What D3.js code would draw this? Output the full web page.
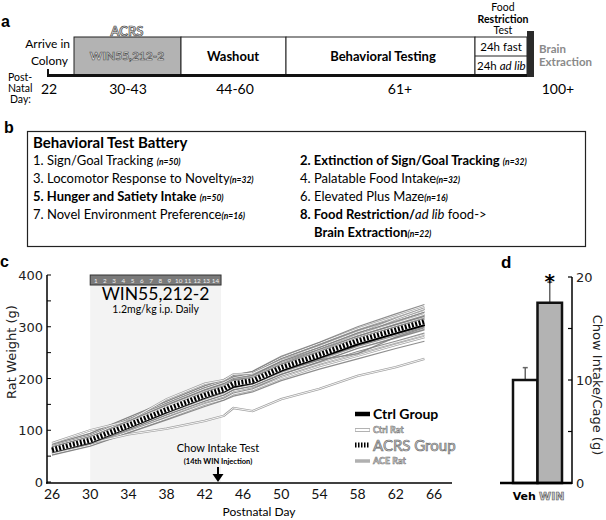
<!DOCTYPE html>
<html><head><meta charset="utf-8">
<script src="https://cdn.jsdelivr.net/npm/d3@7"></script>
<style>html,body{margin:0;padding:0;background:#fff}svg{display:block}</style>
</head><body>
<svg id="fig" width="606" height="520"></svg>
<script>
// ---------- DATA ----------
const timelineStages = ["ACRS", "Washout", "Behavioral Testing", "Food Restriction Test"];
const timelineDays = ["22", "30-43", "44-60", "61+", "100+"];
const batteryLeft = [
  ["1. Sign/Goal Tracking ", "(n=50)", false],
  ["3. Locomotor Response to Novelty", "(n=32)", false],
  ["5. Hunger and Satiety Intake ", "(n=50)", true],
  ["7. Novel Environment Preference", "(n=16)", false]
];
const batteryRight = [
  ["2. Extinction of Sign/Goal Tracking ", "(n=32)", true],
  ["4. Palatable Food Intake", "(n=32)", false],
  ["6. Elevated Plus Maze", "(n=16)", false]
];
const xTicks = [26, 30, 34, 38, 42, 46, 50, 54, 58, 62, 66];
const yTicks = [0, 100, 200, 300, 400];
const injections = [1,2,3,4,5,6,7,8,9,10,11,12,13,14];
const ratDays = [26, 30, 34, 38, 42, 44, 45, 47, 50, 54, 58, 62, 65];
const aceRats = [
  [55,72,98,125,150,162,172,180,205,228,252,272,288],
  [58,76,103,132,160,172,182,188,212,238,262,283,300],
  [60,79,108,138,166,178,187,193,218,243,270,290,306],
  [63,82,112,142,170,182,191,198,224,250,276,297,314],
  [66,85,116,147,176,188,197,204,230,257,284,306,323],
  [70,90,121,152,182,194,203,210,238,265,293,316,334],
  [73,94,125,156,186,198,206,214,243,270,300,325,343],
  [52,69,95,120,146,158,166,174,196,218,238,258,272],
  [64,83,111,141,172,184,195,200,226,252,278,300,316],
  [61,81,109,139,165,177,186,193,216,240,264,286,302],
  [68,87,118,149,178,190,200,206,233,260,288,310,328],
  [57,74,101,130,156,168,178,185,208,232,258,278,294],
  [67,88,114,144,174,186,198,202,228,256,282,304,320],
  [59,77,105,135,163,174,183,190,214,236,248,280,298]
];
const ctrlRats = [
  [62,80,110,141,169,181,190,196,221,246,273,293,309],
  [56,73,100,128,155,166,176,184,206,229,250,270,285],
  [65,84,114,145,174,186,196,202,228,254,280,302,319],
  [71,92,123,154,184,195,205,212,240,268,296,320,338],
  [60,78,106,136,164,176,186,192,216,241,266,288,304],
  [54,71,97,123,150,160,170,178,200,224,244,265,280],
  [69,89,120,150,180,192,201,208,236,262,290,313,330],
  [63,81,111,142,170,183,193,198,223,249,275,296,312],
  [58,75,102,131,158,170,180,187,210,234,260,281,297],
  [75,100,118,160,190,197,208,210,235,258,285,315,335],
  [58,75,92,103,118,128,143,137,160,180,205,222,238],
  [66,86,115,146,175,187,198,203,229,255,284,307,324]
];
const ctrlGroup = [61,79,108,138,166,178,187,194,218,243,269,290,306];
const acrsGroup = [62,81,110,140,168,180,190,196,221,246,273,294,310];
const intakeGroups = ["Veh", "WIN"];
const intakeMeans = [10.0, 17.5];
const intakeErr = [1.2, 2.0];
const intakeTicks = [0, 10, 20];

// ---------- HELPERS ----------
const svg = d3.select("#fig");
const CAL = "Lato, 'Open Sans', sans-serif";
const VER = "'DejaVu Sans', Verdana, sans-serif";
function txt(g, x, y, s, o = {}) {
  const t = g.append("text").attr("x", x).attr("y", y).text(s)
    .attr("font-family", o.ff || CAL).attr("font-size", o.fs || 12)
    .attr("font-weight", o.fw || "normal").attr("fill", o.fill || "#000")
    .attr("text-anchor", o.anchor || "start");
  if (o.italic) t.attr("font-style", "italic");
  if (o.outline) t.attr("fill", o.ofill || "#d6d6d6").attr("stroke", o.ostroke || "#6f6f6f").attr("stroke-width", o.osw || 0.7);
  return t;
}

// ---------- PANEL A ----------
const a = svg.append("g");
txt(a, 1, 27, "a", {ff: "'Liberation Sans', Arial", fs: 16, fw: "bold"});
const boxes = [
  {x0: 74, x1: 181, fill: "#b3b3b3"},
  {x0: 181, x1: 286, fill: "#fff"},
  {x0: 286, x1: 475, fill: "#fff"},
  {x0: 475, x1: 527, fill: "#fff"}
];
a.selectAll("rect.tl").data(boxes).join("rect").attr("class", "tl")
  .attr("x", d => d.x0).attr("y", 37).attr("width", d => d.x1 - d.x0).attr("height", 38)
  .attr("fill", d => d.fill).attr("stroke", "#222").attr("stroke-width", 1);
a.append("line").attr("x1", 475).attr("x2", 527).attr("y1", 56).attr("y2", 56).attr("stroke", "#222");
a.append("rect").attr("x", 527).attr("y", 31).attr("width", 7).attr("height", 46).attr("fill", "#2a2a2a");
a.append("line").attr("x1", 47).attr("x2", 527).attr("y1", 75.5).attr("y2", 75.5).attr("stroke", "#111").attr("stroke-width", 3);
a.append("line").attr("x1", 48).attr("x2", 48).attr("y1", 69).attr("y2", 77).attr("stroke", "#111").attr("stroke-width", 2);
txt(a, 127, 36, "ACRS", {fs: 13, fw: "bold", anchor: "middle", outline: true, ofill: "#e2e2e2", ostroke: "#444"});
txt(a, 70, 48, "Arrive in", {fs: 12, anchor: "end"});
txt(a, 68, 65, "Colony", {fs: 12, anchor: "end"});
txt(a, 127, 60, "WIN55,212-2", {fs: 12, fw: "bold", anchor: "middle", outline: true, ofill: "#e6e6e6", ostroke: "#555"});
txt(a, 233, 61, "Washout", {fs: 13, fw: "bold", anchor: "middle"});
txt(a, 383, 61, "Behavioral Testing", {fs: 13, fw: "bold", anchor: "middle"});
txt(a, 501, 51, "24h fast", {fs: 11.5, anchor: "middle"});
const adl = txt(a, 477, 70, "24h ", {fs: 11.5});
adl.append("tspan").attr("font-style", "italic").text("ad lib");
txt(a, 503, 11, "Food", {fs: 10.5, anchor: "middle"});
txt(a, 503, 22.5, "Restriction", {fs: 10.5, fw: "bold", anchor: "middle"});
txt(a, 503, 33.5, "Test", {fs: 10.5, anchor: "middle"});
txt(a, 539, 53, "Brain", {fs: 11.5, fw: "bold", fill: "#8a8a8a"});
txt(a, 539, 66, "Extraction", {fs: 11.5, fw: "bold", fill: "#8a8a8a"});
txt(a, 8, 81, "Post-", {fs: 10.5});
txt(a, 8, 92, "Natal", {fs: 10.5});
txt(a, 10, 103, "Day:", {fs: 10.5});
const dayX = [49, 128, 235, 400, 558];
timelineDays.forEach((d, i) => txt(a, dayX[i], 94, d, {fs: 14, anchor: "middle"}));

// ---------- PANEL B ----------
const b = svg.append("g");
txt(b, 4, 133, "b", {ff: "'Liberation Sans', Arial", fs: 16, fw: "bold"});
b.append("rect").attr("x", 27.5).attr("y", 131.5).attr("width", 558).attr("height", 115)
  .attr("fill", "none").attr("stroke", "#222").attr("stroke-width", 1.2);
txt(b, 33, 148, "Behavioral Test Battery", {fs: 15, fw: "bold"});
const rowY = [165, 183, 201, 219];
batteryLeft.forEach((r, i) => {
  const t = txt(b, 33, rowY[i], r[0], {fs: 13, fw: r[2] ? "bold" : "normal"});
  t.append("tspan").attr("font-size", 8.5).attr("font-style", "italic").attr("font-weight", "bold").text(r[1]);
});
batteryRight.forEach((r, i) => {
  const t = txt(b, 300, rowY[i], r[0], {fs: 13, fw: r[2] ? "bold" : "normal"});
  t.append("tspan").attr("font-size", 8.5).attr("font-style", "italic").attr("font-weight", "bold").text(r[1]);
});
const r8 = txt(b, 300, rowY[3], "8. Food Restriction/", {fs: 13, fw: "bold"});
r8.append("tspan").attr("font-style", "italic").attr("font-weight", "normal").text("ad lib");
r8.append("tspan").attr("font-weight", "normal").text(" food->");
const r9 = txt(b, 314, 237, "Brain Extraction", {fs: 13, fw: "bold"});
r9.append("tspan").attr("font-size", 8.5).attr("font-style", "italic").attr("font-weight", "bold").text("(n=22)");

// ---------- PANEL C ----------
const c = svg.append("g");
const x = d3.scaleLinear().domain([26, 66]).range([52, 434]);
const y = d3.scaleLinear().domain([0, 400]).range([482, 275]);
txt(c, 0, 267, "c", {ff: "'Liberation Sans', Arial", fs: 16, fw: "bold"});
c.append("rect").attr("x", x(30)).attr("y", y(400)).attr("width", x(43.7) - x(30)).attr("height", y(0) - y(400))
  .attr("fill", "#f3f3f3");
const ib = d3.scaleBand().domain(injections).range([x(30), x(43.7)]).paddingOuter(0.1);
c.append("rect").attr("x", x(30)).attr("y", y(400)).attr("width", x(43.7) - x(30)).attr("height", 10)
  .attr("fill", "#7a7a7a").attr("stroke", "#333").attr("stroke-width", 1);
c.selectAll("text.inj").data(injections).join("text").attr("class", "inj")
  .attr("x", d => ib(d) + ib.bandwidth() / 2).attr("y", y(400) + 7.5)
  .attr("text-anchor", "middle").attr("font-family", CAL).attr("font-size", 6.3).attr("fill", "#eee").text(d => d);
txt(c, (x(30) + x(43.7)) / 2, 300, "WIN55,212-2", {fs: 17.5, anchor: "middle"});
txt(c, (x(30) + x(43.7)) / 2, 313, "1.2mg/kg i.p. Daily", {fs: 10.5, anchor: "middle"});

const line = d3.line().x((d, i) => x(ratDays[i])).y(d => y(d));
const order = [];
for (let i = 0; i < Math.max(aceRats.length, ctrlRats.length); i++) {
  if (aceRats[i]) order.push({v: aceRats[i], t: "ace"});
  if (ctrlRats[i]) order.push({v: ctrlRats[i], t: "ctrl"});
}
order.forEach(o => {
  if (o.t === "ace") {
    c.append("path").attr("d", line(o.v)).attr("fill", "none").attr("stroke", "#7a7a7a").attr("stroke-width", 1.2).attr("opacity", 0.85);
  } else {
    c.append("path").attr("d", line(o.v)).attr("fill", "none").attr("stroke", "#959595").attr("stroke-width", 2.3).attr("opacity", 0.9);
    c.append("path").attr("d", line(o.v)).attr("fill", "none").attr("stroke", "#fff").attr("stroke-width", 0.9);
  }
});
c.append("path").attr("d", line(ctrlGroup)).attr("fill", "none").attr("stroke", "#000").attr("stroke-width", 5);
c.append("path").attr("d", line(acrsGroup)).attr("fill", "none").attr("stroke", "#fff").attr("stroke-width", 5);
c.append("path").attr("d", line(acrsGroup)).attr("fill", "none").attr("stroke", "#000").attr("stroke-width", 5).attr("stroke-dasharray", "2,1.6");

c.append("line").attr("x1", 47).attr("x2", 47).attr("y1", y(400)).attr("y2", 483.5).attr("stroke", "#000").attr("stroke-width", 1.5);
c.append("line").attr("x1", 46).attr("x2", 452).attr("y1", 483).attr("y2", 483).attr("stroke", "#000").attr("stroke-width", 1.5);
const minor = d3.range(0, 401, 50);
c.selectAll("line.yt").data(minor).join("line").attr("class", "yt")
  .attr("x1", 47).attr("x2", 51).attr("y1", d => y(d)).attr("y2", d => y(d)).attr("stroke", "#000").attr("stroke-width", 1);
c.selectAll("text.yl").data(yTicks).join("text").attr("class", "yl")
  .attr("x", 43).attr("y", d => y(d) + 5).attr("text-anchor", "end")
  .attr("font-family", VER).attr("font-size", 13).attr("fill", "#222").text(d => d);
c.selectAll("text.xl").data(xTicks).join("text").attr("class", "xl")
  .attr("x", d => x(d)).attr("y", 499).attr("text-anchor", "middle")
  .attr("font-family", CAL).attr("font-size", 14).attr("fill", "#111").text(d => d);
txt(c, 259, 516, "Postnatal Day", {fs: 12, anchor: "middle"});
txt(c, 0, 0, "Rat Weight (g)", {ff: VER, fs: 13, anchor: "middle", fill: "#222"})
  .attr("transform", "translate(16,352) rotate(-90)");
txt(c, 218, 452, "Chow Intake Test", {fs: 11, anchor: "middle"});
txt(c, 218, 464, "(14th WIN Injection)", {fs: 7.5, fw: "bold", anchor: "middle"});
c.append("line").attr("x1", 218).attr("x2", 218).attr("y1", 467).attr("y2", 476).attr("stroke", "#000").attr("stroke-width", 2);
c.append("path").attr("d", "M212.5,474 L223.5,474 L218,482 Z").attr("fill", "#000");
const lg = c.append("g");
lg.append("line").attr("x1", 355).attr("x2", 370).attr("y1", 414).attr("y2", 414).attr("stroke", "#000").attr("stroke-width", 4.5);
txt(lg, 373, 419, "Ctrl Group", {fs: 14, fw: "bold"});
lg.append("line").attr("x1", 355).attr("x2", 370).attr("y1", 430).attr("y2", 430).attr("stroke", "#999").attr("stroke-width", 3.5);
lg.append("line").attr("x1", 355.5).attr("x2", 369.5).attr("y1", 430).attr("y2", 430).attr("stroke", "#fff").attr("stroke-width", 2);
txt(lg, 373, 433, "Ctrl Rat", {fs: 9, fw: "bold", outline: true, osw: 0.5});
lg.append("line").attr("x1", 355).attr("x2", 370).attr("y1", 445).attr("y2", 445).attr("stroke", "#000").attr("stroke-width", 5).attr("stroke-dasharray", "1.5,1.5");
txt(lg, 373, 451, "ACRS Group", {fs: 15, outline: true, osw: 0.7});
lg.append("line").attr("x1", 355).attr("x2", 370).attr("y1", 461).attr("y2", 461).attr("stroke", "#b0b0b0").attr("stroke-width", 3.5);
txt(lg, 373, 464, "ACE Rat", {fs: 9, fw: "bold", outline: true, osw: 0.5});

// ---------- PANEL D ----------
const d = svg.append("g");
const yd = d3.scaleLinear().domain([0, 20]).range([483, 277]);
const xd = d3.scaleBand().domain(intakeGroups).range([513, 562]);
txt(d, 501, 268, "d", {ff: "'Liberation Sans', Arial", fs: 17, fw: "bold"});
d.selectAll("g.err").data(intakeGroups).join("g").attr("class", "err").each(function (g, i) {
  const cx = xd(g) + xd.bandwidth() / 2;
  const s = d3.select(this);
  s.append("line").attr("x1", cx).attr("x2", cx).attr("y1", yd(intakeMeans[i])).attr("y2", yd(intakeMeans[i] + intakeErr[i]))
    .attr("stroke", "#666").attr("stroke-width", 1.5);
  s.append("line").attr("x1", cx - 2.5).attr("x2", cx + 2.5).attr("y1", yd(intakeMeans[i] + intakeErr[i])).attr("y2", yd(intakeMeans[i] + intakeErr[i]))
    .attr("stroke", "#666").attr("stroke-width", 1.5);
});
d.selectAll("rect.bar").data(intakeGroups).join("rect").attr("class", "bar")
  .attr("x", g => xd(g)).attr("width", xd.bandwidth())
  .attr("y", (g, i) => yd(intakeMeans[i])).attr("height", (g, i) => yd(0) - yd(intakeMeans[i]))
  .attr("fill", (g, i) => i ? "#b3b3b3" : "#fff").attr("stroke", "#111").attr("stroke-width", 2.5);
d.append("line").attr("x1", 500).attr("x2", 572).attr("y1", 483).attr("y2", 483).attr("stroke", "#000").attr("stroke-width", 2.5);
d.append("line").attr("x1", 572).attr("x2", 572).attr("y1", yd(20)).attr("y2", 484).attr("stroke", "#000").attr("stroke-width", 1.5);
d.selectAll("line.dt").data([0, 5, 10, 15, 20]).join("line").attr("class", "dt")
  .attr("x1", 568).attr("x2", 572).attr("y1", v => yd(v)).attr("y2", v => yd(v)).attr("stroke", "#000").attr("stroke-width", 1.2);
d.selectAll("text.dl").data(intakeTicks).join("text").attr("class", "dl")
  .attr("x", 576).attr("y", v => yd(v) + 5).attr("font-family", VER).attr("font-size", 13).attr("fill", "#222").text(v => v);
txt(d, xd("WIN") + xd.bandwidth() / 2, 288, "*", {ff: VER, fs: 20, fw: "bold", anchor: "middle"});
txt(d, 0, 0, "Chow Intake/Cage (g)", {ff: VER, fs: 13, anchor: "middle", fill: "#222"})
  .attr("transform", "translate(593,385) rotate(90)");
txt(d, xd("Veh") + xd.bandwidth() / 2 - 1, 500, "Veh", {ff: VER, fs: 11, fw: "bold", anchor: "middle"});
txt(d, xd("WIN") + xd.bandwidth() / 2 + 2, 500, "WIN", {ff: VER, fs: 11, fw: "bold", anchor: "middle", outline: true, ofill: "#cfcfcf", ostroke: "#555", osw: 0.6});
</script>
</body></html>
